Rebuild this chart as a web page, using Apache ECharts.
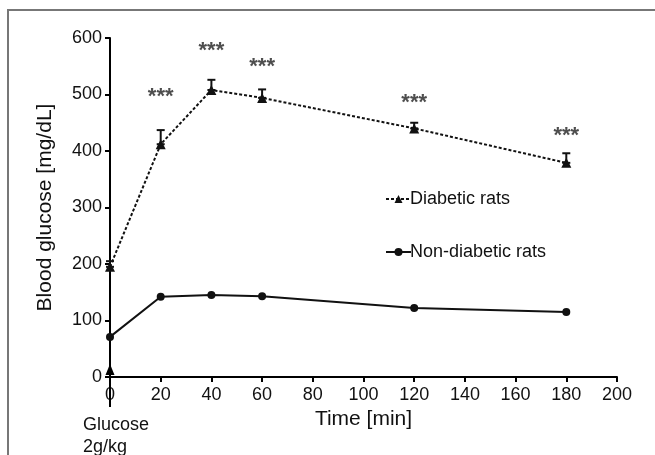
<!DOCTYPE html>
<html><head><meta charset="utf-8">
<script src="https://cdn.jsdelivr.net/npm/echarts@6/dist/echarts.min.js"></script>
<style>html,body{margin:0;padding:0;background:#fff}#c{width:655px;height:455px}</style>
</head><body><div id="c"></div>
<script>
const times = [0, 20, 40, 60, 120, 180];
const diabetic = [195, 412, 508, 494, 440, 379];
const diabeticErr = [10, 25, 18, 15, 10, 17];
const nonDiabetic = [71, 142, 145, 143, 122, 115];
const starTimes = [20, 40, 60, 120, 180];
const starLevels = [505, 586, 557, 494, 435];
const arrowTime = 0;
const arrowFrom = -53;
const arrowTo = 14;

const FONT = "'Liberation Sans', Arial, Helvetica, sans-serif";
const chart = echarts.init(document.getElementById('c'), null, {renderer: 'canvas'});

const errData = times.map((t, i) => [t, diabetic[i], diabeticErr[i]]);

chart.setOption({
  backgroundColor: '#fff',
  animation: false,
  textStyle: {fontFamily: FONT},
  grid: {left: 110, right: 38, top: 38, bottom: 78},
  legend: {
    orient: 'vertical', left: 380, top: 185, itemWidth: 25, itemHeight: 10, itemGap: 35,
    data: ['Diabetic rats', 'Non-diabetic rats'],
    textStyle: {fontSize: 18, color: '#111', fontFamily: FONT, padding: [0, 0, 0, -6]}
  },
  graphic: [
    {type: 'polyline', shape: {points: [[8, 455], [8, 10], [655, 10]]}, style: {stroke: '#777', lineWidth: 2, fill: null}},
    {type: 'text', left: 83, top: 414, style: {text: 'Glucose\n2g/kg', fontSize: 18, lineHeight: 22, fill: '#111', fontFamily: FONT}}
  ],
  xAxis: {
    type: 'value', min: 0, max: 200, interval: 20,
    name: 'Time [min]', nameLocation: 'middle', nameGap: 31,
    nameTextStyle: {fontSize: 21, color: '#111', fontFamily: FONT},
    axisLine: {show: true, onZero: false, lineStyle: {color: '#000', width: 2}},
    axisTick: {show: true, length: 5, lineStyle: {color: '#000', width: 2}},
    axisLabel: {fontSize: 18, color: '#111', margin: 9, fontFamily: FONT},
    splitLine: {show: false}
  },
  yAxis: {
    type: 'value', min: 0, max: 600, interval: 100,
    name: 'Blood glucose [mg/dL]', nameLocation: 'middle', nameGap: 54,
    nameTextStyle: {fontSize: 21, color: '#111', fontFamily: FONT},
    axisLine: {show: true, onZero: false, lineStyle: {color: '#000', width: 2}},
    axisTick: {show: true, length: 5, lineStyle: {color: '#000', width: 2}},
    axisLabel: {fontSize: 18, color: '#111', margin: 8, fontFamily: FONT},
    splitLine: {show: false}
  },
  series: [
    {
      name: 'Diabetic rats', type: 'line',
      data: times.map((t, i) => [t, diabetic[i]]),
      symbol: 'triangle', symbolSize: 10, showSymbol: true,
      lineStyle: {color: '#111', width: 2, type: [3, 2]},
      itemStyle: {color: '#111'}, z: 3
    },
    {
      name: 'Non-diabetic rats', type: 'line',
      data: times.map((t, i) => [t, nonDiabetic[i]]),
      symbol: 'circle', symbolSize: 8, showSymbol: true,
      lineStyle: {color: '#111', width: 2},
      itemStyle: {color: '#111'}, z: 3
    },
    {
      type: 'custom', name: 'err', clip: false, z: 4,
      data: errData,
      renderItem: function (params, api) {
        const x = api.value(0), m = api.value(1), e = api.value(2);
        const p0 = api.coord([x, m]);
        const p1 = api.coord([x, m + e]);
        const w = 4;
        const st = {stroke: '#111', lineWidth: 2};
        return {type: 'group', children: [
          {type: 'line', shape: {x1: p0[0], y1: p0[1], x2: p1[0], y2: p1[1]}, style: st},
          {type: 'line', shape: {x1: p1[0] - w, y1: p1[1], x2: p1[0] + w, y2: p1[1]}, style: st},
          {type: 'line', shape: {x1: p0[0] - w, y1: p0[1], x2: p0[0] + w, y2: p0[1]}, style: st}
        ]};
      }
    },
    {
      type: 'custom', name: 'arrow', clip: false, z: 5,
      data: [[arrowTime, arrowFrom, arrowTo]],
      renderItem: function (params, api) {
        const a = api.coord([api.value(0), api.value(1)]);
        const b = api.coord([api.value(0), api.value(2)]);
        return {type: 'group', children: [
          {type: 'line', shape: {x1: a[0], y1: a[1], x2: b[0], y2: b[1] + 6}, style: {stroke: '#000', lineWidth: 2}},
          {type: 'polygon', shape: {points: [[b[0], b[1] - 5], [b[0] - 4.5, b[1] + 6], [b[0] + 4.5, b[1] + 6]]}, style: {fill: '#000'}}
        ]};
      }
    },
    {
      type: 'scatter', name: 'stars', symbolSize: 0, z: 5,
      data: starTimes.map((t, i) => [t, starLevels[i]]),
      label: {show: true, position: 'inside', formatter: '***', fontSize: 22, fontWeight: 'bold', offset: [0, 5], color: '#222', fontFamily: FONT},
      silent: true
    }
  ]
});
</script></body></html>
